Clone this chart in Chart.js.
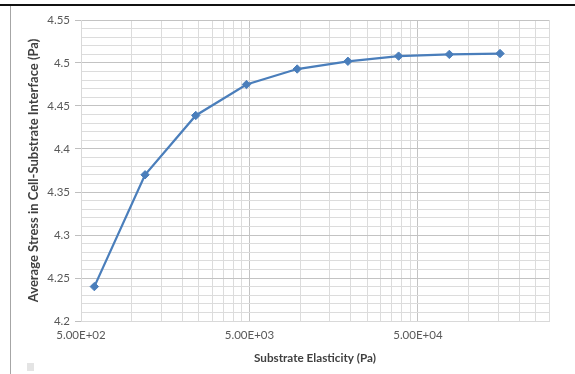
<!DOCTYPE html>
<html>
<head>
<meta charset="utf-8">
<script src="https://cdn.jsdelivr.net/npm/chart.js@4.4.1/dist/chart.umd.min.js"></script>
<style>
    html, body { margin: 0; padding: 0; background: #fff; }
    #moldura { position: relative; width: 575px; height: 374px; overflow: hidden; }
    #linha_topo { position: absolute; left: 0; top: 4px; width: 575px; height: 2px; background: #111; }
    #linha_esq { position: absolute; left: 10px; top: 6px; width: 1px; height: 368px; background: #a6a6a6; }
    #quadrado { position: absolute; left: 27px; top: 363px; width: 7px; height: 8px; background: #e4e4e4; }
    #area_grafico { position: absolute; left: 0; top: 0; width: 575px; height: 374px; }
    #grafico_geral { display: block; width: 575px; height: 374px; }
</style>
</head>
<body>
<div id="moldura">
    <div id="area_grafico"><canvas id="grafico_geral" width="575" height="374"></canvas></div>
    <div id="linha_topo"></div>
    <div id="linha_esq"></div>
    <div id="quadrado"></div>
</div>
<script>
// --- Dados ---
const elasticidade = [600, 1200, 2400, 4800, 9600, 19200, 38400, 76800, 153600];
const tensaoMedia = [4.240, 4.370, 4.439, 4.475, 4.493, 4.502, 4.508, 4.510, 4.511];

// --- Eixos ---
const xMin = 500;
const xMax = 300000;
const xTicksPrincipais = [500, 5000, 50000];
const xMultiplicadores = [1, 2, 3, 4, 5, 6, 7, 8, 9];
const yMin = 4.2;
const yMax = 4.55;
const yPassoMenor = 0.01;
const yPassoMaior = 0.05;

const corLinha = '#4a7ebb';
const corTexto = '#595959';
const corTitulo = '#404040';

function formatoCientifico(v) {
    const partes = v.toExponential(2).toUpperCase().split('E');
    const sinal = partes[1][0] === '-' ? '-' : '+';
    let exp = partes[1].replace('+', '').replace('-', '');
    if (exp.length < 2) exp = '0' + exp;
    return partes[0] + 'E' + sinal + exp;
}

function ehPrincipalY(v) {
    const k = v / yPassoMaior;
    return Math.abs(k - Math.round(k)) < 1e-6;
}

const ctx = document.getElementById('grafico_geral');
const meuGrafico = new Chart(ctx, {
    type: 'line',
    data: {
        datasets: [{
            label: 'Tensão',
            data: elasticidade.map((x, i) => ({ x: x, y: tensaoMedia[i] })),
            borderColor: corLinha,
            backgroundColor: corLinha,
            borderWidth: 2.25,
            pointStyle: 'rectRot',
            pointRadius: 4.2,
            pointBorderWidth: 1,
            pointBorderColor: corLinha,
            pointBackgroundColor: corLinha,
            tension: 0,
            fill: false
        }]
    },
    options: {
        responsive: false,
        animation: false,
        devicePixelRatio: 1,
        layout: {
            padding: { left: 0, right: 26, top: 20, bottom: 0 }
        },
        plugins: {
            legend: { display: false },
            tooltip: { enabled: false }
        },
        scales: {
            x: {
                type: 'logarithmic',
                min: xMin,
                max: xMax,
                afterBuildTicks: (escala) => {
                    const ticks = [];
                    xTicksPrincipais.forEach(base => {
                        xMultiplicadores.forEach(m => {
                            const v = base * m;
                            if (v <= xMax) ticks.push({ value: v, major: m === 1 });
                        });
                    });
                    escala.ticks = ticks;
                },
                afterFit: (escala) => { escala.height = 53; },
                grid: {
                    color: (c) => (c.tick && c.tick.major) ? '#c3c3c3' : '#dcdcdc',
                    lineWidth: 1,
                    drawTicks: false
                },
                border: { color: '#d9d9d9' },
                ticks: {
                    autoSkip: false,
                    maxRotation: 0,
                    padding: 7,
                    color: corTexto,
                    font: { family: 'Lato', size: 11.5 },
                    callback: function (valor, indice, ticks) {
                        return ticks[indice].major ? formatoCientifico(valor) : '';
                    }
                },
                title: {
                    display: true,
                    text: 'Substrate Elasticity (Pa)',
                    color: corTitulo,
                    font: { family: 'Lato', size: 11.7, weight: 'bold' },
                    padding: { top: 4, bottom: 9 }
                }
            },
            y: {
                type: 'linear',
                min: yMin,
                max: yMax,
                afterBuildTicks: (escala) => {
                    const ticks = [];
                    const n = Math.round((yMax - yMin) / yPassoMenor);
                    for (let i = 0; i <= n; i++) {
                        const v = Math.round((yMin + i * yPassoMenor) * 100) / 100;
                        ticks.push({ value: v, major: ehPrincipalY(v) });
                    }
                    escala.ticks = ticks;
                },
                afterFit: (escala) => { escala.width = 81; },
                grid: {
                    color: (c) => (c.tick && c.tick.major) ? '#c3c3c3' : '#dcdcdc',
                    lineWidth: 1,
                    tickLength: 6,
                    tickColor: (c) => (c.tick && c.tick.major) ? '#bfbfbf' : 'rgba(0,0,0,0)'
                },
                border: { color: '#d9d9d9' },
                ticks: {
                    autoSkip: false,
                    padding: 5,
                    color: corTexto,
                    font: { family: 'Lato', size: 11.5 },
                    callback: function (valor, indice, ticks) {
                        return ticks[indice].major ? String(Math.round(valor * 100) / 100) : '';
                    }
                },
                title: {
                    display: true,
                    text: 'Average Stress in Cell-Substrate Interface (Pa)',
                    color: corTitulo,
                    font: { family: 'Lato', size: 13, weight: 'bold' },
                    padding: { top: 26, bottom: 0 }
                }
            }
        }
    }
});
</script>
</body>
</html>
